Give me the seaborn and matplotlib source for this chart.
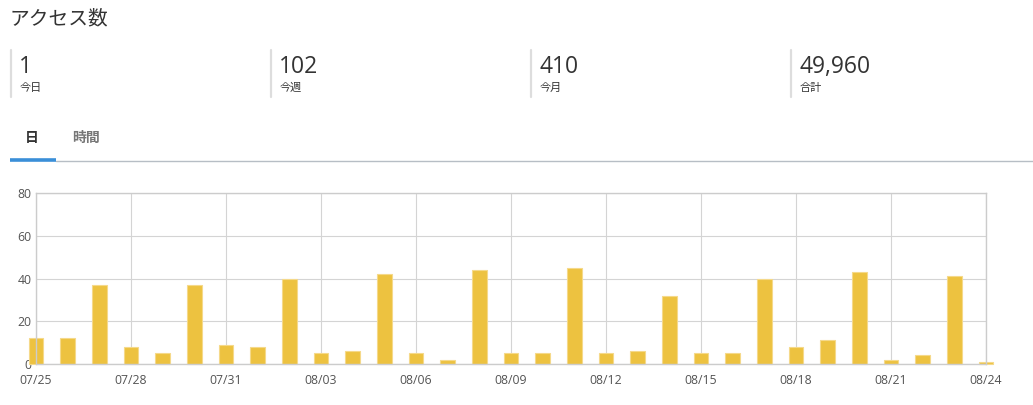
import pandas as pd
import numpy as np
import matplotlib
matplotlib.use("Agg")
import matplotlib.pyplot as plt
import seaborn as sns
from matplotlib.lines import Line2D

# daily access counts 07/25 .. 08/24
dates = ["07/25", "07/26", "07/27", "07/28", "07/29", "07/30", "07/31", "08/01",
         "08/02", "08/03", "08/04", "08/05", "08/06", "08/07", "08/08", "08/09",
         "08/10", "08/11", "08/12", "08/13", "08/14", "08/15", "08/16", "08/17",
         "08/18", "08/19", "08/20", "08/21", "08/22", "08/23", "08/24"]
counts = [12, 12, 37, 8, 5, 37, 9, 8, 40, 5, 6, 42, 5, 2, 44, 5,
          5, 45, 5, 6, 32, 5, 5, 40, 8, 11, 43, 2, 4, 41, 1]

stat_values = ["1", "102", "410", "49,960"]
stat_labels = ["今日", "今週", "今月", "合計"]
tab_labels = ["日", "時間"]
title = "アクセス数"

W, H = 1033, 405
JP = ["Noto Sans CJK JP", "DejaVu Sans"]
NUM = ["Open Sans", "Noto Sans CJK JP"]

sns.set_theme(style="white")
plt.rcParams["font.family"] = JP

fig = plt.figure(figsize=(W / 100, H / 100), dpi=100)


def px(x, y):
    return x / W, 1 - y / H


# header
fig.text(*px(10, 19), title, fontsize=14.2, color="#333333", va="center", ha="left")

card_x = [11, 271, 531, 791]
for cx, v, lab in zip(card_x, stat_values, stat_labels):
    fig.add_artist(Line2D([cx / W, cx / W], [1 - 50 / H, 1 - 97 / H], color="#dddddd", lw=1.6))
    fig.text((cx + 8) / W, 1 - 67 / H, v, fontsize=16.5, color="#333333",
             va="center", ha="left", family=NUM)
    fig.text((cx + 9) / W, 1 - 88 / H, lab, fontsize=8, color="#333333",
             va="center", ha="left")

# tabs
fig.text(*px(32, 138), tab_labels[0], fontsize=10, fontweight="bold", color="#333333",
         va="center", ha="center")
fig.text(*px(72, 138), tab_labels[1], fontsize=10, fontweight="bold", color="#777777",
         va="center", ha="left")
fig.add_artist(Line2D([56 / W, 1.0], [1 - 161 / H] * 2, color="#b7bec5", lw=1.0))
fig.add_artist(Line2D([10 / W, 56 / W], [1 - 160 / H] * 2, color="#3a8fd8", lw=2.6,
                      solid_capstyle="butt"))

# chart
ax = fig.add_axes([36 / W, (H - 364) / H, 950 / W, 171 / H])
df = pd.DataFrame({"day": np.arange(len(dates)), "count": counts})
sns.barplot(data=df, x="day", y="count", native_scale=True, width=0.47,
            color="#edc240", saturation=1, errorbar=None, ax=ax,
            edgecolor="#f5d98a", linewidth=0.8)
for p in ax.patches:
    p.set_clip_on(False)

ax.set_xlim(0, len(dates) - 1)
ax.set_ylim(0, 80)
ax.set_xticks(np.arange(0, len(dates), 3))
ax.set_xticklabels([dates[i] for i in range(0, len(dates), 3)])
ax.set_yticks([0, 20, 40, 60, 80])
ax.grid(True, color="#d4d4d4", lw=0.8)
ax.set_axisbelow(True)
for s in ax.spines.values():
    s.set_color("#cccccc")
    s.set_linewidth(1.0)
ax.tick_params(axis="both", length=0, labelsize=8.8, labelcolor="#545454")
ax.tick_params(axis="x", pad=7)
ax.tick_params(axis="y", pad=3)
for t in ax.get_xticklabels() + ax.get_yticklabels():
    t.set_family(NUM)
ax.set_xlabel("")
ax.set_ylabel("")

fig.savefig("out.png", dpi=100)
